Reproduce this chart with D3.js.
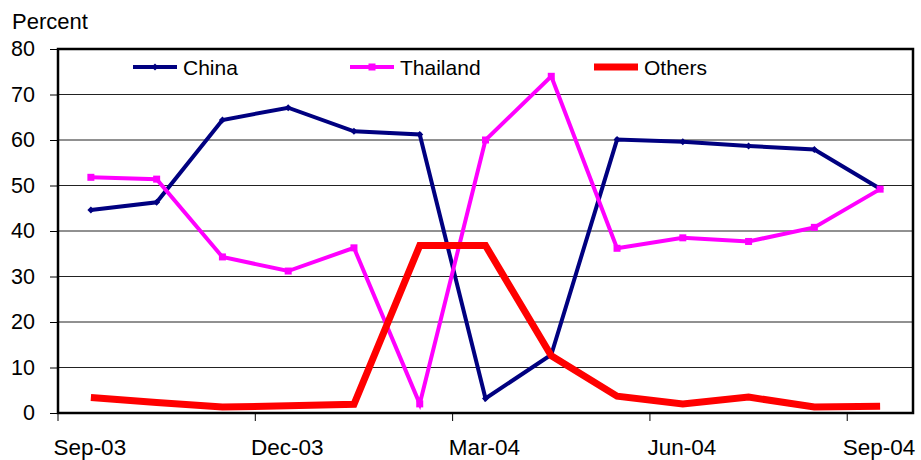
<!DOCTYPE html>
<html><head><meta charset="utf-8">
<script src="https://cdn.jsdelivr.net/npm/d3@7"></script>
<style>body{margin:0;background:#fff}svg{display:block}text{font-family:"Liberation Sans",Arial,sans-serif;fill:#000}</style>
</head><body>
<svg id="c" width="921" height="460"></svg>
<script>
const months = ["Sep-03","Oct-03","Nov-03","Dec-03","Jan-04","Feb-04","Mar-04","Apr-04","May-04","Jun-04","Jul-04","Aug-04","Sep-04"];
const china = [44.6,46.3,64.4,67.1,61.9,61.2,3.2,12.8,60.1,59.6,58.7,57.9,49.3];
const thailand = [51.8,51.4,34.3,31.2,36.3,2.0,60.0,74.0,36.2,38.5,37.7,40.8,49.2];
const others = [3.4,2.3,1.3,1.6,1.9,36.8,36.8,12.6,3.7,2.0,3.5,1.3,1.5];
const yTicks = [0,10,20,30,40,50,60,70,80];
const labelIdx = [0,3,6,9,12];

const svg = d3.select("#c");
const L=58,R=913,T=49,B=413;
const x = d3.scaleBand().domain(months).range([L,R]).padding(0);
const y = d3.scaleLinear().domain([0,80]).range([B,T]);
const cx = m => x(m)+x.bandwidth()/2;

svg.append("text").attr("x",12).attr("y",29).attr("font-size",22).text("Percent");

// grid
svg.append("g").selectAll("line").data(yTicks.filter(v=>v>0&&v<80)).join("line")
  .attr("x1",L).attr("x2",R).attr("y1",d=>y(d)).attr("y2",d=>y(d))
  .attr("stroke","#222").attr("stroke-width",1);

// y axis
const ya = svg.append("g").attr("transform",`translate(${L},0)`)
  .call(d3.axisLeft(y).tickValues(yTicks).tickSize(8).tickPadding(15).tickFormat(d3.format("d")));
ya.select(".domain").remove();
ya.selectAll("line").attr("stroke","#000");
ya.selectAll("text").attr("font-size",21.5).attr("font-family","Liberation Sans, Arial, sans-serif").attr("fill","#000");

// x ticks at boundaries
const xa = svg.append("g");
xa.selectAll("line").data(labelIdx).join("line")
  .attr("x1",i=>x(months[i])).attr("x2",i=>x(months[i]))
  .attr("y1",B).attr("y2",B+8).attr("stroke","#000").attr("stroke-width",1);
xa.selectAll("text").data(labelIdx).join("text")
  .attr("x",i=>cx(months[i])-1).attr("y",455).attr("text-anchor","middle").attr("font-size",22.5)
  .text(i=>months[i]);

// frame
svg.append("rect").attr("x",L).attr("y",T).attr("width",R-L).attr("height",B-T)
  .attr("fill","none").attr("stroke","#000").attr("stroke-width",2.5);

const line = d3.line().x((d,i)=>cx(months[i])).y(d=>y(d));
const series = [
  {name:"China", data:china, color:"#000080", w:4, marker:"diamond"},
  {name:"Thailand", data:thailand, color:"#FF00FF", w:4, marker:"square"},
  {name:"Others", data:others, color:"#FF0000", w:7, marker:null}
];
series.forEach(s=>{
  svg.append("path").datum(s.data).attr("d",line).attr("fill","none")
    .attr("stroke",s.color).attr("stroke-width",s.w).attr("stroke-linejoin","miter");
  if(s.marker==="square"){
    svg.append("g").selectAll("rect").data(s.data).join("rect")
      .attr("x",(d,i)=>cx(months[i])-3.5).attr("y",d=>y(d)-3.5).attr("width",7).attr("height",7).attr("fill",s.color);
  } else if(s.marker==="diamond"){
    svg.append("g").selectAll("path").data(s.data).join("path")
      .attr("d",(d,i)=>{const px=cx(months[i]),py=y(d);return `M${px},${py-3.5}L${px+3.5},${py}L${px},${py+3.5}L${px-3.5},${py}Z`;})
      .attr("fill",s.color);
  }
});

// legend
const legX = [133,350,594];
series.forEach((s,k)=>{
  const g = svg.append("g");
  g.append("line").attr("x1",legX[k]).attr("x2",legX[k]+44).attr("y1",67).attr("y2",67)
    .attr("stroke",s.color).attr("stroke-width",s.name==="Others"?7:4);
  if(s.marker==="square") g.append("rect").attr("x",legX[k]+22-3.5).attr("y",63.5).attr("width",7).attr("height",7).attr("fill",s.color);
  if(s.marker==="diamond") g.append("path").attr("d",`M${legX[k]+22},${63.5}L${legX[k]+25.5},67L${legX[k]+22},70.5L${legX[k]+18.5},67Z`).attr("fill",s.color);
  g.append("text").attr("x",legX[k]+50).attr("y",75).attr("font-size",21).text(s.name);
});
</script>
</body></html>
